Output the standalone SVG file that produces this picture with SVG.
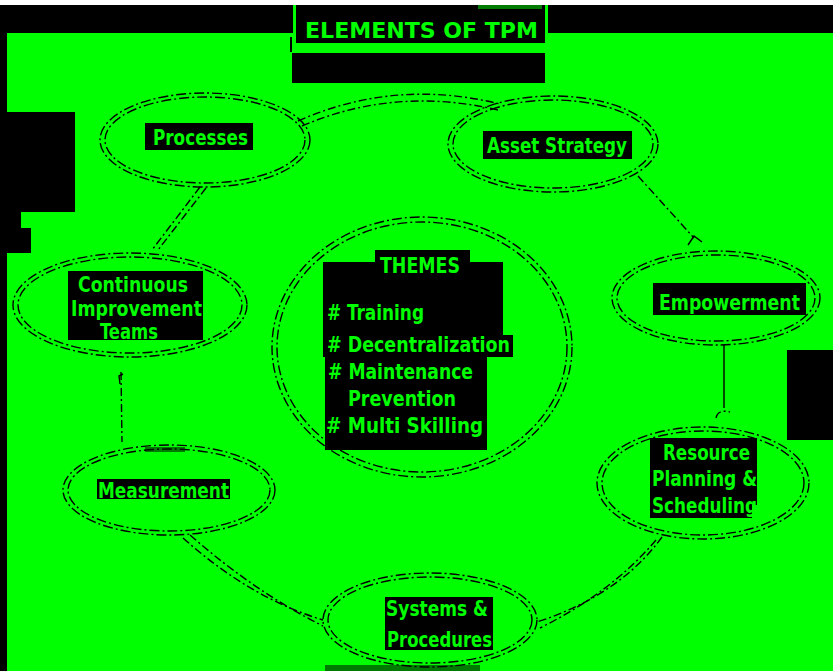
<svg xmlns="http://www.w3.org/2000/svg" width="833" height="671" viewBox="0 0 833 671">
<style>
.ell{fill:none;stroke:#000;stroke-width:1.4;stroke-dasharray:10 3 2 3}
.con{fill:none;stroke:#000;stroke-width:1.4;stroke-dasharray:8 3 2 3}
.sol{fill:none;stroke:#000;stroke-width:1.4}
.box{fill:#000}
.t{fill:#00ff00;font-family:"DejaVu Sans Condensed","DejaVu Sans","Liberation Sans",sans-serif;font-weight:bold;font-size:21px}
.th{font-size:22px}
</style>
<rect x="0" y="0" width="833" height="671" fill="#00ff00"/>
<rect x="0" y="0" width="833" height="5" fill="#fff"/>
<rect x="0" y="5" width="833" height="28" fill="#000"/>
<rect x="0" y="5" width="7" height="666" fill="#000"/>
<path d="M7,112 H75 V212 H21 V228 H31 V253 H7 Z" fill="#000"/>
<rect x="787" y="350" width="46" height="90" fill="#000"/>
<rect x="290" y="37" width="2" height="15" fill="#000"/>
<rect x="145" y="447" width="40" height="5" fill="#007a00"/>
<rect x="325" y="665" width="155" height="6" fill="#007a00"/>

<g id="title">
<rect x="293" y="5" width="255" height="42" fill="#00ff00"/>
<rect x="296" y="5" width="249" height="38" fill="#000"/>
<rect x="478" y="5" width="64" height="4" fill="#007a00"/>
<rect x="292" y="53" width="253" height="30" fill="#000"/>
<text class="t" x="305" y="38" font-size="25" textLength="233" lengthAdjust="spacingAndGlyphs">ELEMENTS OF TPM</text>
</g>

<g id="connectors">
<path class="con" d="M298,121 Q395,78 500,104"/>
<path class="con" d="M302,126 Q395,86 498,110"/>
<path class="con" d="M200,187 L152,250"/>
<path class="con" d="M206,188 L158,250"/>
<path class="con" d="M638,176 L694,238"/>
<path class="sol" d="M688,245 L694,236 L702,242"/>
<path class="sol" d="M724,345 L724,408"/>
<path class="con" d="M716,418 Q718,409 730,412"/>
<path class="con" d="M121,372 L122,442"/>
<path class="sol" d="M123,374 L119,376 L120,384"/>
<path class="con" d="M183,538 Q250,598 323,620"/>
<path class="con" d="M190,535 Q255,592 323,626"/>
<path class="con" d="M662,537 Q620,595 537,622"/>
<path class="con" d="M656,540 Q612,592 540,628"/>
</g>

<g id="themes">
<ellipse class="ell" cx="422" cy="347" rx="150" ry="130"/>
<ellipse class="ell" cx="422" cy="347" rx="145" ry="125"/>
<polygon class="box" points="375,250 470,250 470,262 503,262 503,335 513,335 513,357 487,357 487,450 325,450 325,357 323,357 323,262 375,262"/>
<text class="t th" x="380" y="273" textLength="80" lengthAdjust="spacingAndGlyphs">THEMES</text>
<text class="t th" x="327" y="320" textLength="97" lengthAdjust="spacingAndGlyphs"># Training</text>
<text class="t th" x="327" y="352" textLength="183" lengthAdjust="spacingAndGlyphs">#  Decentralization</text>
<text class="t th" x="328" y="379" textLength="145" lengthAdjust="spacingAndGlyphs"># Maintenance</text>
<text class="t th" x="348" y="406" textLength="108" lengthAdjust="spacingAndGlyphs">Prevention</text>
<text class="t th" x="326" y="433" textLength="157" lengthAdjust="spacingAndGlyphs"># Multi Skilling</text>
</g>

<g id="processes">
<ellipse class="ell" cx="205" cy="140" rx="105" ry="47"/>
<ellipse class="ell" cx="205" cy="140" rx="100" ry="43"/>
<rect class="box" x="145" y="123" width="108" height="27"/>
<text class="t" x="153" y="145" textLength="95" lengthAdjust="spacingAndGlyphs">Processes</text>
</g>

<g id="asset-strategy">
<ellipse class="ell" cx="553" cy="144" rx="105" ry="48"/>
<ellipse class="ell" cx="553" cy="144" rx="100" ry="44"/>
<rect class="box" x="483" y="131" width="149" height="28"/>
<text class="t" x="487" y="153" textLength="140" lengthAdjust="spacingAndGlyphs">Asset Strategy</text>
</g>

<g id="empowerment">
<ellipse class="ell" cx="716" cy="298" rx="104" ry="47"/>
<ellipse class="ell" cx="716" cy="298" rx="99" ry="43"/>
<rect class="box" x="653" y="283" width="153" height="32"/>
<text class="t" x="659" y="310" textLength="141" lengthAdjust="spacingAndGlyphs">Empowerment</text>
</g>

<g id="resource-planning">
<ellipse class="ell" cx="703" cy="483" rx="106" ry="56"/>
<ellipse class="ell" cx="703" cy="483" rx="101" ry="52"/>
<path class="box" d="M650,438 H757 V505 H752 V518 H650 Z"/>
<text class="t" x="663" y="460" textLength="87" lengthAdjust="spacingAndGlyphs">Resource</text>
<text class="t" x="652" y="486" textLength="105" lengthAdjust="spacingAndGlyphs">Planning &amp;</text>
<text class="t" x="652" y="513" textLength="105" lengthAdjust="spacingAndGlyphs">Scheduling</text>
</g>

<g id="systems-procedures">
<ellipse class="ell" cx="430" cy="620" rx="107" ry="47"/>
<ellipse class="ell" cx="430" cy="620" rx="102" ry="43"/>
<rect class="box" x="385" y="597" width="108" height="53"/>
<text class="t" x="386" y="616" textLength="102" lengthAdjust="spacingAndGlyphs">Systems &amp;</text>
<text class="t" x="387" y="647" textLength="105" lengthAdjust="spacingAndGlyphs">Procedures</text>
</g>

<g id="measurement">
<ellipse class="ell" cx="169" cy="490" rx="106" ry="45"/>
<ellipse class="ell" cx="169" cy="490" rx="101" ry="41"/>
<rect class="box" x="97" y="479" width="133" height="20"/>
<text class="t" x="98" y="498" textLength="131" lengthAdjust="spacingAndGlyphs">Measurement</text>
</g>

<g id="continuous-improvement">
<ellipse class="ell" cx="130" cy="305" rx="117" ry="52"/>
<ellipse class="ell" cx="130" cy="305" rx="112" ry="48"/>
<rect class="box" x="68" y="271" width="135" height="69"/>
<text class="t" x="78" y="292" textLength="110" lengthAdjust="spacingAndGlyphs">Continuous</text>
<text class="t" x="71" y="316" textLength="131" lengthAdjust="spacingAndGlyphs">Improvement</text>
<text class="t" x="100" y="339" textLength="58" lengthAdjust="spacingAndGlyphs">Teams</text>
</g>
</svg>
